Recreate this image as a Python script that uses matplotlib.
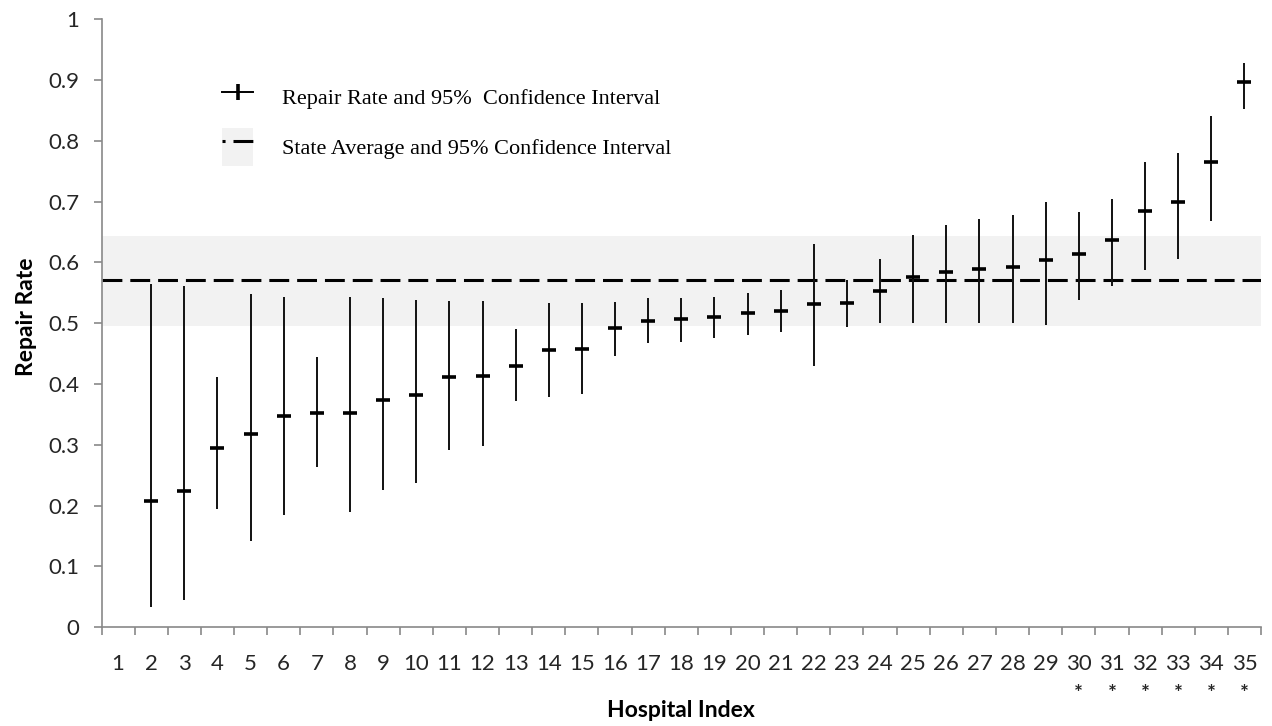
import numpy as np
import matplotlib
matplotlib.use("Agg")
import matplotlib.pyplot as plt
from matplotlib.lines import Line2D
from matplotlib.patches import Patch

# hospital 1 has no reported rate
hospitals = np.arange(1, 36)
rate = [np.nan, 0.207, 0.224, 0.295, 0.318, 0.348, 0.352, 0.352, 0.373, 0.382,
        0.412, 0.414, 0.430, 0.456, 0.458, 0.492, 0.504, 0.507, 0.510, 0.517,
        0.521, 0.532, 0.534, 0.553, 0.576, 0.585, 0.589, 0.593, 0.604, 0.614,
        0.637, 0.684, 0.700, 0.766, 0.897]
lower = [np.nan, 0.034, 0.045, 0.194, 0.142, 0.184, 0.264, 0.190, 0.226, 0.238,
         0.292, 0.298, 0.372, 0.378, 0.384, 0.447, 0.467, 0.470, 0.475, 0.481,
         0.485, 0.429, 0.494, 0.500, 0.500, 0.500, 0.500, 0.500, 0.498, 0.538,
         0.561, 0.587, 0.606, 0.669, 0.853]
upper = [np.nan, 0.564, 0.562, 0.411, 0.548, 0.544, 0.445, 0.544, 0.542, 0.539,
         0.537, 0.536, 0.491, 0.533, 0.533, 0.535, 0.541, 0.541, 0.543, 0.550,
         0.554, 0.630, 0.571, 0.605, 0.645, 0.662, 0.672, 0.678, 0.700, 0.683,
         0.704, 0.765, 0.780, 0.841, 0.928]
state_avg = 0.572
state_lo = 0.496
state_hi = 0.644
starred = [30, 31, 32, 33, 34, 35]

plt.rcParams['font.family'] = ['Lato', 'DejaVu Sans']

rate = np.array(rate)
lower = np.array(lower)
upper = np.array(upper)
ok = np.isfinite(rate)

fig = plt.figure(figsize=(12.72, 7.26), dpi=100)
ax = fig.add_axes([0.0798, 0.136, 0.9116, 0.8374])

band_color = "#f2f2f2"
dash = (6.5, 2.6)
ax.axhspan(state_lo, state_hi, color=band_color, lw=0, zorder=0)
ax.axhline(state_avg, color="black", lw=2.2, dashes=dash, zorder=2)

ax.errorbar(hospitals[ok], rate[ok],
            yerr=[rate[ok] - lower[ok], upper[ok] - rate[ok]],
            fmt="_", ms=10, mew=2.6, ecolor="#111111", elinewidth=1.4,
            color="black", capsize=0, zorder=3)

ax.set_xlim(0.5, 35.5)
ax.set_ylim(0, 1)
ax.set_yticks(np.arange(0, 1.01, 0.1))
ax.set_yticklabels(["0"] + [f"{v:.1f}" for v in np.arange(0.1, 0.95, 0.1)] + ["1"])

# category boundaries as major ticks, labels on minor ticks at centres
ax.set_xticks(np.arange(0.5, 36, 1))
ax.set_xticklabels([])
ax.set_xticks(hospitals, minor=True)
ax.set_xticklabels([str(h) for h in hospitals], minor=True)

axis_gray = "#898989"
for s in ["top", "right"]:
    ax.spines[s].set_visible(False)
for s in ["left", "bottom"]:
    ax.spines[s].set_color(axis_gray)
    ax.spines[s].set_linewidth(1.2)
ax.tick_params(axis="y", which="major", length=6, width=1.2, color=axis_gray,
               labelsize=16, labelcolor="#262626", pad=10)
ax.tick_params(axis="x", which="major", length=6, width=1.2, color=axis_gray)
ax.tick_params(axis="x", which="minor", length=0, labelsize=16,
               labelcolor="#262626", pad=19.5)

for h in starred:
    ax.annotate("*", xy=(h, 0), xycoords=("data", "axes fraction"),
                xytext=(0, -48), textcoords="offset points",
                ha="center", va="center", fontsize=15, fontweight="bold",
                color="#262626")

ax.set_xlabel("Hospital Index", fontsize=16.5, fontweight="bold")
ax.xaxis.set_label_coords(0.5, -0.12)
ax.set_ylabel("Repair Rate", fontsize=16.5, fontweight="bold")
ax.yaxis.set_label_coords(-0.056, 0.51)

h1 = Line2D([], [], color="black", lw=1.4, marker="|", ms=11, mew=2.6)
h2 = (Patch(facecolor=band_color, edgecolor="none"),
      Line2D([], [], color="black", lw=2.2, linestyle=(5.5, dash)))
ax.legend([h1, h2],
          ["Repair Rate and 95%  Confidence Interval",
           "State Average and 95% Confidence Interval"],
          loc="upper left", bbox_to_anchor=(0.104, 0.902), frameon=False,
          borderpad=0, borderaxespad=0, handlelength=1.4, handleheight=2.2,
          handletextpad=1.3, labelspacing=0.55,
          prop={"family": ["Liberation Serif"], "size": 16})

fig.savefig("out.png", dpi=100)
